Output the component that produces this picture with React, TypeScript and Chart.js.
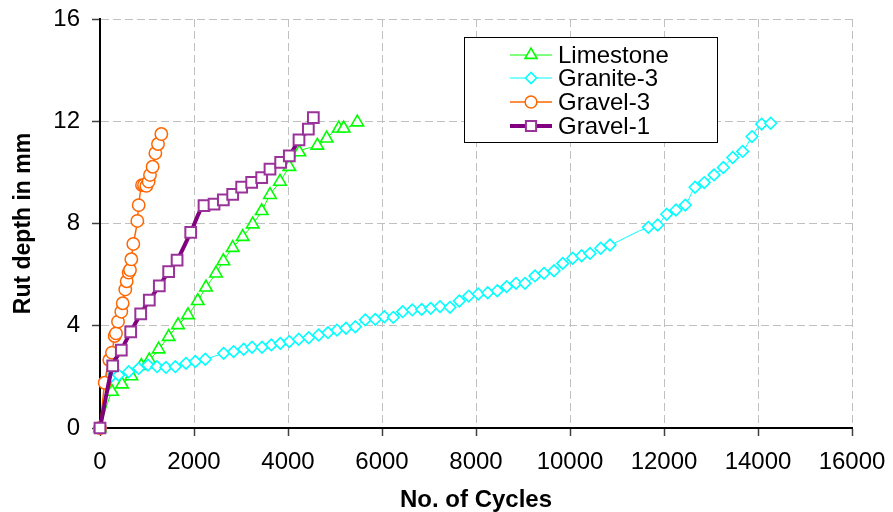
import React, { useEffect, useRef } from 'react';
import { Chart, registerables } from 'chart.js';
import { drawPoint } from 'chart.js/helpers';

Chart.register(...registerables);

const seriesNames = ['Limestone', 'Granite-3', 'Gravel-3', 'Gravel-1'];

const limestoneX = [0, 255, 468, 667, 879, 1049, 1248, 1461, 1660, 1872, 2080, 2255, 2468, 2624, 2823, 3036, 3249, 3440, 3617, 3830, 4028, 4240, 4624, 4823, 5080, 5185, 5474];
const limestoneY = [0, 1.42, 1.71, 2.03, 2.43, 2.66, 3.08, 3.57, 4.03, 4.42, 4.97, 5.5, 6.05, 6.53, 7.05, 7.48, 7.97, 8.49, 9.12, 9.64, 10.22, 10.79, 11.05, 11.33, 11.72, 11.72, 11.96];

const graniteX = [0, 220, 397, 610, 823, 1021, 1213, 1404, 1603, 1830, 2028, 2240, 2631, 2843, 3057, 3234, 3447, 3645, 3837, 4028, 4227, 4440, 4652, 4851, 5043, 5234, 5432, 5645, 5857, 6050, 6241, 6440, 6645, 6845, 7036, 7234, 7447, 7645, 7845, 8049, 8249, 8453, 8653, 8851, 9043, 9255, 9447, 9660, 9845, 10057, 10248, 10426, 10653, 10851, 11667, 11865, 12057, 12255, 12453, 12660, 12857, 13064, 13262, 13462, 13674, 13872, 14078, 14270];
const graniteY = [0, 1.98, 2.07, 2.2, 2.33, 2.46, 2.4, 2.37, 2.4, 2.53, 2.6, 2.69, 2.92, 2.99, 3.08, 3.16, 3.16, 3.25, 3.31, 3.38, 3.47, 3.53, 3.64, 3.73, 3.83, 3.9, 3.96, 4.23, 4.25, 4.35, 4.33, 4.55, 4.62, 4.64, 4.68, 4.75, 4.72, 4.97, 5.16, 5.24, 5.29, 5.37, 5.53, 5.66, 5.66, 5.95, 6.05, 6.15, 6.44, 6.64, 6.74, 6.83, 7.03, 7.16, 7.85, 7.94, 8.36, 8.53, 8.72, 9.42, 9.6, 9.9, 10.19, 10.58, 10.82, 11.4, 11.89, 11.92];

const gravel3X = [0, 100, 198, 255, 312, 340, 383, 453, 483, 538, 568, 610, 638, 666, 709, 794, 823, 894, 936, 986, 1035, 1064, 1120, 1178, 1234, 1305];
const gravel3Y = [0, 1.77, 2.66, 2.95, 3.6, 3.7, 4.16, 4.55, 4.88, 5.42, 5.74, 6.08, 6.18, 6.6, 7.2, 8.1, 8.72, 9.5, 9.5, 9.47, 9.64, 9.9, 10.22, 10.75, 11.11, 11.5];

const gravel1X = [0, 270, 453, 653, 866, 1049, 1262, 1461, 1640, 1930, 2213, 2426, 2624, 2823, 3014, 3227, 3440, 3617, 3844, 4028, 4234, 4433, 4539];
const gravel1Y = [0, 2.43, 3.05, 3.76, 4.46, 5.0, 5.56, 6.12, 6.57, 7.65, 8.7, 8.76, 8.92, 9.14, 9.42, 9.61, 9.79, 10.13, 10.39, 10.65, 11.27, 11.69, 12.14];

const xTickValues = [0, 2000, 4000, 6000, 8000, 10000, 12000, 14000, 16000];
const yTickValues = [0, 4, 8, 12, 16];
const xTitle = 'No. of Cycles';
const yTitle = 'Rut depth in mm';

const FONT = '"Liberation Sans", Arial, sans-serif';

type Style = {
  line: string;
  point: string;
  pointStyle: string;
  radius: number;
  lineWidth: number;
  pointBorderWidth: number;
};

const styles: Record<string, Style> = {
  'Limestone': { line: '#00FF00', point: '#00FF00', pointStyle: 'triangle', radius: 7.2, lineWidth: 1, pointBorderWidth: 1.6 },
  'Granite-3': { line: '#00FFFF', point: '#00FFFF', pointStyle: 'rectRot', radius: 5.8, lineWidth: 1, pointBorderWidth: 1.6 },
  'Gravel-3': { line: '#FF6600', point: '#FF6600', pointStyle: 'circle', radius: 6.2, lineWidth: 1.5, pointBorderWidth: 1.5 },
  'Gravel-1': { line: '#800080', point: '#993399', pointStyle: 'rect', radius: 7.6, lineWidth: 4, pointBorderWidth: 2 },
};

const toPts = (xs: number[], ys: number[]) => xs.map((x, i) => ({ x, y: ys[i] }));

const seriesData: Record<string, { x: number; y: number }[]> = {
  'Limestone': toPts(limestoneX, limestoneY),
  'Granite-3': toPts(graniteX, graniteY),
  'Gravel-3': toPts(gravel3X, gravel3Y),
  'Gravel-1': toPts(gravel1X, gravel1Y),
};

const legendPlugin = {
  id: 'boxLegend',
  afterDraw(chart: any) {
    const ctx = chart.ctx as CanvasRenderingContext2D;
    const bx = 464, by = 37, bw = 253, bh = 105;
    ctx.save();
    ctx.fillStyle = '#FFFFFF';
    ctx.fillRect(bx, by, bw, bh);
    ctx.strokeStyle = '#000000';
    ctx.lineWidth = 1;
    ctx.strokeRect(bx + 0.5, by + 0.5, bw, bh);
    const rowY = [55, 78, 102, 126];
    seriesNames.forEach((name, i) => {
      const s = styles[name];
      const y = rowY[i];
      ctx.beginPath();
      ctx.strokeStyle = s.line;
      ctx.lineWidth = s.lineWidth;
      ctx.moveTo(510, y);
      ctx.lineTo(552, y);
      ctx.stroke();
      ctx.fillStyle = '#FFFFFF';
      ctx.strokeStyle = s.point;
      ctx.lineWidth = s.pointBorderWidth;
      drawPoint(ctx, { pointStyle: s.pointStyle as any, radius: s.radius * 0.95, rotation: 0, borderWidth: s.pointBorderWidth }, 531, y);
      ctx.fillStyle = '#000000';
      ctx.font = `24px ${FONT}`;
      ctx.textBaseline = 'middle';
      ctx.textAlign = 'left';
      ctx.fillText(name, 558, y + 1);
    });
    ctx.restore();
  },
};

export default function App() {
  const canvasRef = useRef<HTMLCanvasElement | null>(null);

  useEffect(() => {
    document.body.style.margin = '0';
    const canvas = canvasRef.current;
    if (!canvas) return;
    const order = ['Gravel-1', 'Gravel-3', 'Granite-3', 'Limestone'];
    const datasets = order.map((name) => {
      const s = styles[name];
      return {
        label: name,
        data: seriesData[name],
        borderColor: s.line,
        borderWidth: s.lineWidth,
        backgroundColor: '#FFFFFF',
        pointStyle: s.pointStyle,
        pointRadius: s.radius,
        pointBorderColor: s.point,
        pointBackgroundColor: '#FFFFFF',
        pointBorderWidth: s.pointBorderWidth,
        pointHoverRadius: s.radius,
        cubicInterpolationMode: 'monotone' as const,
        fill: false,
        clip: false as any,
      };
    });

    const chart = new Chart(canvas, {
      type: 'line',
      data: { datasets },
      options: {
        animation: false,
        responsive: false,
        parsing: false as any,
        events: [],
        layout: { padding: 0 },
        plugins: {
          legend: { display: false },
          tooltip: { enabled: false },
        },
        scales: {
          x: {
            type: 'linear',
            min: 0,
            max: 16000,
            afterBuildTicks: (scale: any) => {
              scale.ticks = xTickValues.map((v) => ({ value: v }));
            },
            afterFit: (scale: any) => {
              scale.height = 84;
              scale.paddingRight = 41;
              scale.paddingLeft = 0;
            },
            ticks: {
              color: '#000000',
              font: { family: FONT, size: 24 },
              padding: 12,
              maxRotation: 0,
              autoSkip: false,
              callback: (v: any) => String(v),
            },
            grid: {
              color: '#C0C0C0',
              lineWidth: 1,
              tickLength: 8,
              tickColor: '#404040',
              tickWidth: 1.5,
            },
            border: { display: true, color: '#000000', width: 2, dash: [8, 4] },
            title: {
              display: true,
              text: xTitle,
              color: '#000000',
              font: { family: FONT, size: 24, weight: 'bold', lineHeight: 1.0 },
              padding: { top: 0, bottom: 0 },
            },
          },
          y: {
            type: 'linear',
            min: 0,
            max: 16,
            afterBuildTicks: (scale: any) => {
              scale.ticks = yTickValues.map((v) => ({ value: v }));
            },
            afterFit: (scale: any) => {
              scale.width = 100;
              scale.paddingTop = 19;
              scale.paddingBottom = 0;
            },
            ticks: {
              color: '#000000',
              font: { family: FONT, size: 24 },
              padding: 12,
              callback: (v: any) => String(v),
            },
            grid: {
              color: '#C0C0C0',
              lineWidth: 1,
              tickLength: 8,
              tickColor: '#404040',
              tickWidth: 1.5,
            },
            border: { display: true, color: '#000000', width: 2, dash: [8, 4] },
            title: {
              display: true,
              text: yTitle,
              color: '#000000',
              font: { family: FONT, size: 23, weight: 'bold' },
              padding: { top: 10, bottom: 0 },
            },
          },
        },
      },
      plugins: [legendPlugin],
    });

    return () => {
      chart.destroy();
    };
  }, []);

  return (
    <div style={{ width: 893, height: 512, background: '#FFFFFF' }}>
      <canvas ref={canvasRef} width={893} height={512} style={{ display: 'block' }} />
    </div>
  );
}
